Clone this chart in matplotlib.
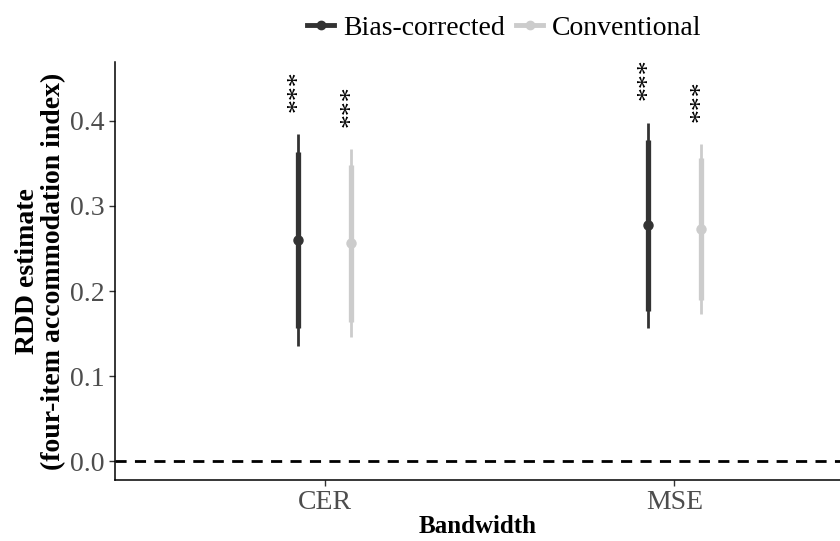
import matplotlib
matplotlib.use("Agg")
import matplotlib.pyplot as plt
from matplotlib.lines import Line2D

plt.rcParams['font.family'] = ['Liberation Serif', 'DejaVu Serif']

bandwidths = ["CER", "MSE"]
methods = ["Bias-corrected", "Conventional"]
colors = {"Bias-corrected": "#333333", "Conventional": "#cccccc"}

estimate = {"Bias-corrected": [0.260, 0.278], "Conventional": [0.257, 0.273]}
ci95_lo = {"Bias-corrected": [0.135, 0.157], "Conventional": [0.146, 0.173]}
ci95_hi = {"Bias-corrected": [0.385, 0.398], "Conventional": [0.367, 0.373]}
ci90_lo = {"Bias-corrected": [0.156, 0.176], "Conventional": [0.164, 0.189]}
ci90_hi = {"Bias-corrected": [0.364, 0.378], "Conventional": [0.348, 0.356]}
stars = {"Bias-corrected": ["***", "***"], "Conventional": ["***", "***"]}

fig = plt.figure(figsize=(8.4, 5.41), dpi=100)
ax = fig.add_axes([0.137, 0.113, 0.863, 0.772])

offsets = {"Bias-corrected": -0.076, "Conventional": 0.076}
for m in methods:
    for i, b in enumerate(bandwidths):
        x = i + 1 + offsets[m]
        c = colors[m]
        ax.plot([x, x], [ci95_lo[m][i], ci95_hi[m][i]], color=c, lw=2.0, solid_capstyle='butt', zorder=2)
        ax.plot([x, x], [ci90_lo[m][i], ci90_hi[m][i]], color=c, lw=3.8, solid_capstyle='butt', zorder=3)
        ax.plot([x], [estimate[m][i]], 'o', color=c, ms=6.5, zorder=4)
        ax.text(x, ci95_hi[m][i] + 0.026, stars[m][i], rotation=90, ha='center', va='bottom',
                fontsize=20, color='black')

ax.axhline(0, color='black', lw=2.0, ls=(0, (4, 3)), zorder=1)

ax.set_xlim(0.4, 2.474)
ax.set_ylim(-0.022, 0.469)
ax.set_xticks([1, 2])
ax.set_xticklabels(bandwidths)
ax.set_yticks([0.0, 0.1, 0.2, 0.3, 0.4])
ax.set_yticklabels(["0.0", "0.1", "0.2", "0.3", "0.4"])
ax.tick_params(axis='both', labelsize=20, labelcolor='#4d4d4d', color='#333333', length=4, width=1)
for s in ['top', 'right']:
    ax.spines[s].set_visible(False)
for s in ['left', 'bottom']:
    ax.spines[s].set_linewidth(1.1)

ax.set_xlabel("Bandwidth", fontsize=18, fontweight='bold', labelpad=0)
ax.set_ylabel("RDD estimate\n(four-item accommodation index)", fontsize=20, fontweight='bold',
              labelpad=3, linespacing=1.05)

handles = [Line2D([0], [0], color=colors[m], lw=3.5, marker='o', ms=6) for m in methods]
fig.legend(handles, methods, loc='upper center', bbox_to_anchor=(0.6, 1.018), ncol=2,
           frameon=False, fontsize=20, handlelength=1.0, handletextpad=0.3, columnspacing=0.4)

fig.savefig("out.png", dpi=100)
